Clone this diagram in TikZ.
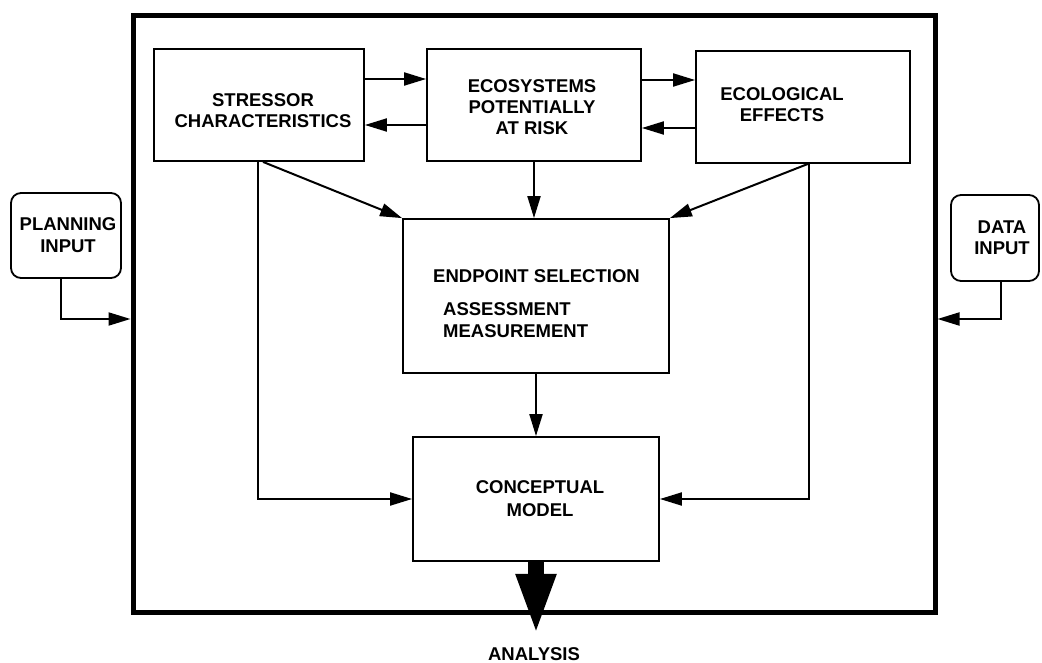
\documentclass[tikz,border=0pt]{standalone}
\usepackage{fontspec}
\setmainfont{Liberation Sans}
\usepackage{tikz}
\usetikzlibrary{arrows.meta}

\begin{document}
\begin{tikzpicture}[x=1pt, y=-1pt,
    box/.style={draw, line width=1.8pt, inner sep=0pt, minimum width=#1},
    rbox/.style={box=#1, rounded corners=10pt},
    txt/.style={inner sep=0pt, align=center, font=\bfseries\fontsize{18.5}{21}\selectfont},
    arr/.style={line width=2pt, -{Triangle[length=22pt, width=13pt]}}]
    \useasboundingbox (0, 0) rectangle (1042, 663);
    % frame and boxes
    \node[draw, line width=5pt, minimum width=802pt, minimum height=596pt] (frame) at (534, 314) {};
    \node[box=210pt, minimum height=112pt] (stress) at (259, 105) {};
    \node[box=214pt, minimum height=112pt] (eco) at (534, 105) {};
    \node[box=214pt, minimum height=112pt] (effect) at (803, 107) {};
    \node[box=266pt, minimum height=154pt] (endpt) at (536, 296) {};
    \node[box=246pt, minimum height=124pt] (concept) at (536, 499) {};
    \node[rbox=110pt, minimum height=85pt] (plan) at (66, 235.5) {};
    \node[rbox=88pt, minimum height=86pt] (data) at (995, 238) {};
    % texts
    \node[txt] (stresstxt) at (263, 111) {STRESSOR\\CHARACTERISTICS};
    \node[txt] (ecotxt) at (532, 107) {ECOSYSTEMS\\POTENTIALLY\\AT RISK};
    \node[txt] (effecttxt) at (782, 105) {ECOLOGICAL\\EFFECTS};
    \node[txt, anchor=west] (endpttxt) at (433, 276) {ENDPOINT SELECTION};
    \node[txt, anchor=west, align=left, font=\bfseries\fontsize{18.5}{22}\selectfont] (assesstxt) at (443, 320) {ASSESSMENT\\MEASUREMENT};
    \node[txt, font=\bfseries\fontsize{18.5}{23}\selectfont] (concepttxt) at (540, 499) {CONCEPTUAL\\MODEL};
    \node[txt, font=\bfseries\fontsize{18.5}{22}\selectfont] (plantxt) at (68, 235) {PLANNING\\INPUT};
    \node[txt] (datatxt) at (1002, 238) {DATA\\INPUT};
    \node[txt] (analysis) at (534, 654) {ANALYSIS};
    % connectors
    \draw[arr] ([yshift=26pt]stress.east) -- ([yshift=26pt]stress.east -| eco.west);
    \draw[arr] ([yshift=-20pt]eco.west) -- ([yshift=-20pt]eco.west -| stress.east);
    \draw[arr] ([yshift=25pt]eco.east) -- ([yshift=25pt]eco.east -| effect.west);
    \draw[arr] ([yshift=-21pt]effect.west) -- ([yshift=-21pt]effect.west -| eco.east);
    \draw[arr] ([xshift=4pt]stress.south) -- (endpt.north west);
    \draw[arr] (eco.south) -- (eco.south |- endpt.north);
    \draw[arr] ([xshift=5pt]effect.south) -- (endpt.north east);
    \draw[arr] ([xshift=-1pt]stress.south) |- (concept.west);
    \draw[arr] ([xshift=6pt]effect.south) |- (concept.east);
    \draw[arr] (endpt.south) -- (concept.north);
    \draw[arr] ([xshift=-5pt]plan.south) |- ([yshift=-5pt]frame.west);
    \draw[arr] ([xshift=6pt]data.south) |- ([yshift=-5pt]frame.east);
    \draw[line width=16pt, -{Triangle[length=62pt, width=36pt]}] (concept.south) -- ++(0, 74);
\end{tikzpicture}
\end{document}
